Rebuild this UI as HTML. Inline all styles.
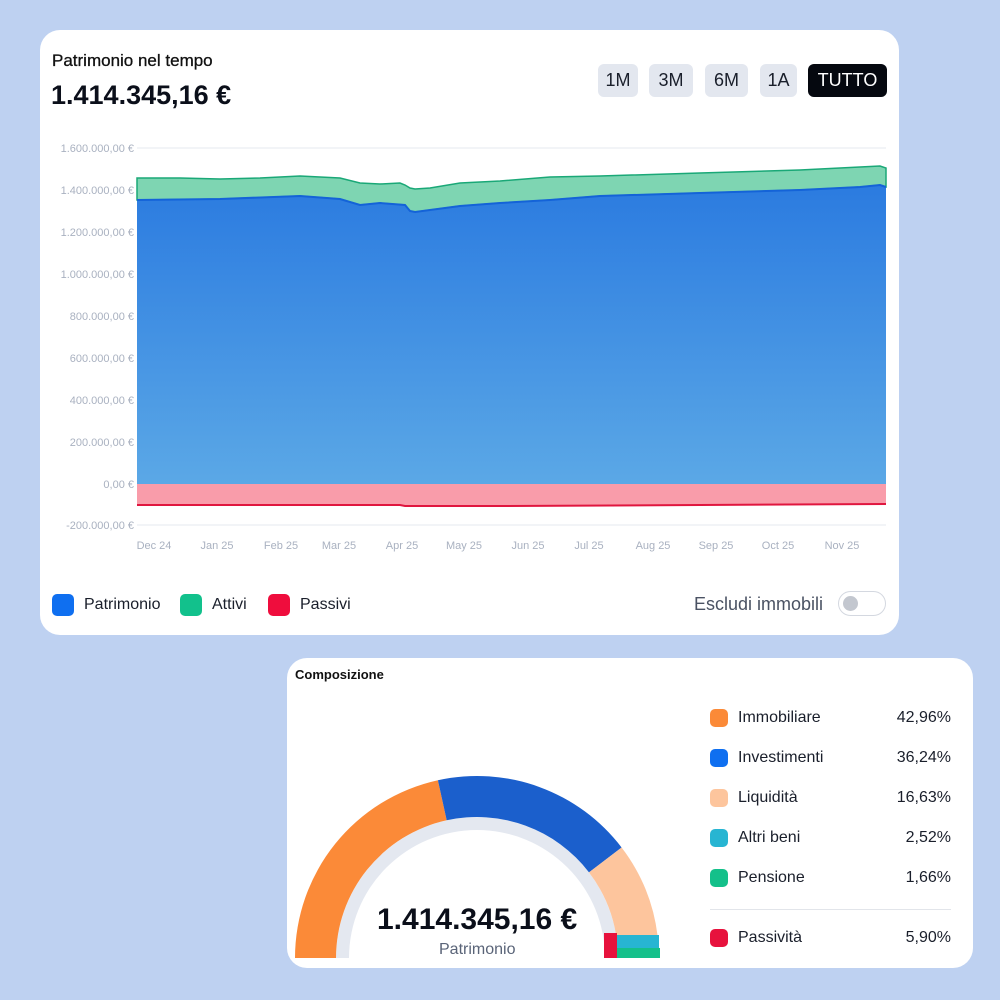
<!DOCTYPE html>
<html><head><meta charset="utf-8"><style>
body{margin:0;width:1000px;height:1000px;background:#bed1f1;font-family:"Liberation Sans",sans-serif;position:relative;overflow:hidden}
.card{position:absolute;background:#fff;border-radius:20px}
.btn{position:absolute;top:64px;height:33px;background:#e3e7ef;border-radius:6px;font-size:18px;color:#1a1f2b;text-align:center;line-height:33px}
.lg{position:absolute;font-size:16px;color:#1a1f2b}
.sw{display:inline-block;width:22px;height:22px;border-radius:5px;vertical-align:middle;margin-right:10px}
.row{position:absolute;left:710px;width:241px;font-size:16px;color:#1a1f2b}
.row .sw{width:18px;height:18px;margin-right:10px}
.row b{position:absolute;right:0;font-weight:normal}
</style></head><body>
<div class="card" style="left:40px;top:30px;width:859px;height:605px"></div>
<div class="card" style="left:287px;top:658px;width:686px;height:310px"></div>
<div style="position:absolute;left:52px;top:51px;font-size:17px;color:#111;-webkit-text-stroke:0.3px #111">Patrimonio nel tempo</div>
<div style="position:absolute;left:51px;top:80px;font-size:27px;font-weight:bold;color:#0b0f1a">1.414.345,16 €</div>
<div class="btn" style="left:598px;width:40px">1M</div>
<div class="btn" style="left:649px;width:44px">3M</div>
<div class="btn" style="left:705px;width:43px">6M</div>
<div class="btn" style="left:760px;width:37px">1A</div>
<div class="btn" style="left:808px;width:79px;background:#05080f;color:#fff">TUTTO</div>
<svg width="1000" height="1000" style="position:absolute;left:0;top:0">
<defs><linearGradient id="bg" x1="0" y1="0" x2="0" y2="1"><stop offset="0" stop-color="#2b7be0"/><stop offset="1" stop-color="#5ba8e6"/></linearGradient></defs>
<g stroke="#e6e9ef" stroke-width="1">
<line x1="137" y1="148" x2="886" y2="148"/><line x1="137" y1="190" x2="886" y2="190"/><line x1="137" y1="232" x2="886" y2="232"/><line x1="137" y1="274" x2="886" y2="274"/><line x1="137" y1="316" x2="886" y2="316"/><line x1="137" y1="358" x2="886" y2="358"/><line x1="137" y1="400" x2="886" y2="400"/><line x1="137" y1="442" x2="886" y2="442"/><line x1="137" y1="525" x2="886" y2="525"/></g>
<g font-size="11" fill="#a9b1c0" text-anchor="end">
<text x="134" y="152">1.600.000,00 €</text><text x="134" y="194">1.400.000,00 €</text><text x="134" y="236">1.200.000,00 €</text><text x="134" y="278">1.000.000,00 €</text><text x="134" y="320">800.000,00 €</text><text x="134" y="362">600.000,00 €</text><text x="134" y="404">400.000,00 €</text><text x="134" y="446">200.000,00 €</text><text x="134" y="488">0,00 €</text><text x="134" y="529">-200.000,00 €</text></g>
<polygon fill="#7ed5b2" stroke="#1aa877" stroke-width="1.5" points="137,178 180,178 220,179 260,178 300,176 340,178 360,183 380,184 400,183 405,185 410,188 415,189 430,188 460,183 500,181 550,177 600,176 700,173 800,170 860,167 880,166 886,168 886,187 880,185 860,187 800,190 700,193 600,196 550,200 500,203 460,206 430,210 415,212 410,211 405,205 380,203 360,205 340,199 300,196 220,199 137,200"/>
<polygon fill="url(#bg)" points="137,200 220,199 300,196 340,199 360,205 380,203 405,205 410,211 415,212 430,210 460,206 500,203 550,200 600,196 700,193 800,190 860,187 880,185 886,187 886,484 137,484"/>
<polyline fill="none" stroke="#1463d8" stroke-width="2" points="137,200 220,199 300,196 340,199 360,205 380,203 405,205 410,211 415,212 430,210 460,206 500,203 550,200 600,196 700,193 800,190 860,187 880,185 886,187"/>
<polygon fill="#f99caa" points="137,484 886,484 886,504 700,505 500,506 405,506 400,505 137,505"/>
<polyline fill="none" stroke="#e0163f" stroke-width="2" points="137,505 400,505 405,506 500,506 700,505 886,504"/>
<g font-size="11" fill="#a9b1c0" text-anchor="middle">
<text x="154" y="549">Dec 24</text><text x="217" y="549">Jan 25</text><text x="281" y="549">Feb 25</text><text x="339" y="549">Mar 25</text><text x="402" y="549">Apr 25</text><text x="464" y="549">May 25</text><text x="528" y="549">Jun 25</text><text x="589" y="549">Jul 25</text><text x="653" y="549">Aug 25</text><text x="716" y="549">Sep 25</text><text x="778" y="549">Oct 25</text><text x="842" y="549">Nov 25</text></g>
<path d="M336,958 A141,141 0 0 1 618,958 L605,958 A128,128 0 0 0 349,958 Z" fill="#e4e8f0"/>
<path d="M295,958 A182,182 0 0 1 437.9,780.2 L446.7,820.3 A141,141 0 0 0 336,958 Z" fill="#fb8a38"/>
<path d="M437.9,780.2 A182,182 0 0 1 621.6,847.5 L589,872.4 A141,141 0 0 0 446.7,820.3 Z" fill="#1b5fcc"/>
<path d="M621.6,847.5 A182,182 0 0 1 657.6,935.8 L616.9,940.8 A141,141 0 0 0 589,872.4 Z" fill="#fdc59d"/>
<rect x="617" y="935" width="42" height="14" fill="#27b5d2"/>
<rect x="617" y="948" width="43" height="10" fill="#14c08a"/>
<rect x="604" y="933" width="13" height="25" fill="#e7123d"/>
</svg>
<div class="lg" style="left:52px;top:594px"><span class="sw" style="background:#0f6ff0"></span>Patrimonio</div>
<div class="lg" style="left:180px;top:594px"><span class="sw" style="background:#12c18c"></span>Attivi</div>
<div class="lg" style="left:268px;top:594px"><span class="sw" style="background:#ef0d3d"></span>Passivi</div>
<div style="position:absolute;left:694px;top:594px;font-size:18px;color:#4a5263">Escludi immobili</div>
<div style="position:absolute;left:838px;top:591px;width:48px;height:25px;border-radius:13px;background:#fff;border:1px solid #d4d8e0;box-sizing:border-box"><div style="position:absolute;left:4px;top:4px;width:15px;height:15px;border-radius:50%;background:#c3c7cf"></div></div>
<div style="position:absolute;left:295px;top:667px;font-size:13px;font-weight:bold;color:#111">Composizione</div>
<div style="position:absolute;left:377px;top:903px;font-size:30px;font-weight:bold;color:#0b0f1a">1.414.345,16 €</div>
<div style="position:absolute;left:439px;top:941px;font-size:16px;color:#5a6478">Patrimonio</div>
<div class="row" style="top:709px"><span class="sw" style="background:#fb8a38"></span>Immobiliare<b>42,96%</b></div>
<div class="row" style="top:749px"><span class="sw" style="background:#0f6ff0"></span>Investimenti<b>36,24%</b></div>
<div class="row" style="top:789px"><span class="sw" style="background:#fdc59d"></span>Liquidità<b>16,63%</b></div>
<div class="row" style="top:829px"><span class="sw" style="background:#27b5d2"></span>Altri beni<b>2,52%</b></div>
<div class="row" style="top:869px"><span class="sw" style="background:#14c08a"></span>Pensione<b>1,66%</b></div>
<div style="position:absolute;left:710px;top:909px;width:241px;height:1px;background:#e2e5ea"></div>
<div class="row" style="top:929px"><span class="sw" style="background:#e7123d"></span>Passività<b>5,90%</b></div>
</body></html>
